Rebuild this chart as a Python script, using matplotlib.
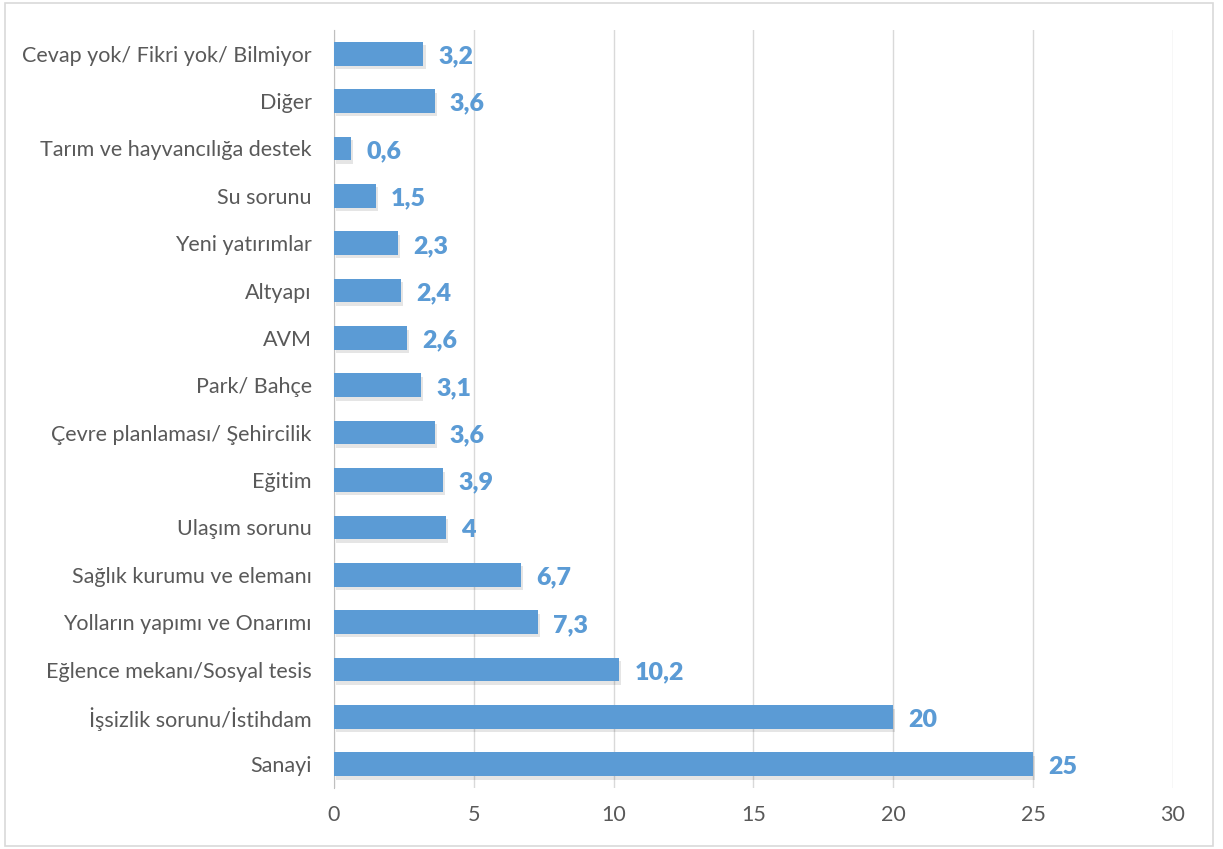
import matplotlib
matplotlib.use("Agg")
import matplotlib.pyplot as plt
import matplotlib.patheffects as pe
from matplotlib.patches import Rectangle

# categories from bottom to top
categories = [
    "Sanayi",
    "İşsizlik sorunu/İstihdam",
    "Eğlence mekanı/Sosyal tesis",
    "Yolların yapımı ve Onarımı",
    "Sağlık kurumu ve elemanı",
    "Ulaşım sorunu",
    "Eğitim",
    "Çevre planlaması/ Şehircilik",
    "Park/ Bahçe",
    "AVM",
    "Altyapı",
    "Yeni yatırımlar",
    "Su sorunu",
    "Tarım ve hayvancılığa destek",
    "Diğer",
    "Cevap yok/ Fikri yok/ Bilmiyor",
]
values = [25, 20, 10.2, 7.3, 6.7, 4, 3.9, 3.6, 3.1, 2.6, 2.4, 2.3, 1.5, 0.6, 3.6, 3.2]
xticks = [0, 5, 10, 15, 20, 25, 30]

bar_color = "#5B9BD5"
plt.rcParams['font.family'] = ['Lato', 'DejaVu Sans']

fig = plt.figure(figsize=(12.23, 8.49), dpi=100)
ax = fig.add_axes([0.2731, 0.0719, 0.686, 0.8928])

ypos = list(range(len(categories)))
bars = ax.barh(ypos, values, height=0.5, color=bar_color, zorder=3)
for b in bars:
    b.set_path_effects([pe.SimplePatchShadow(offset=(1.5, -2.5), shadow_rgbFace="#000000", alpha=0.1),
                        pe.Normal()])

for y, v in zip(ypos, values):
    txt = f"{v:g}".replace(".", ",")
    ax.annotate(txt, xy=(v, y), xytext=(11, -2), textcoords="offset points",
                ha="left", va="center", fontsize=18, fontweight="heavy", color=bar_color)

ax.set_xlim(0, 30)
ax.set_ylim(-0.5, len(categories) - 0.5)
ax.set_xticks(xticks)
ax.set_yticks(ypos)
ax.set_yticklabels(categories)
ax.tick_params(axis="both", length=0, colors="#595959", labelsize=15.5)
ax.tick_params(axis="x", pad=12)
ax.tick_params(axis="y", pad=16)
ax.grid(axis="x", color="#D9D9D9", linewidth=1, zorder=0)
for s in ["top", "right", "bottom"]:
    ax.spines[s].set_visible(False)
ax.spines["left"].set_color("#BFBFBF")

fig.patches.append(Rectangle((0.004, 0.003), 0.988, 0.994, transform=fig.transFigure,
                             fill=False, edgecolor="#D9D9D9", linewidth=1.2))

fig.savefig("out.png", dpi=100)
